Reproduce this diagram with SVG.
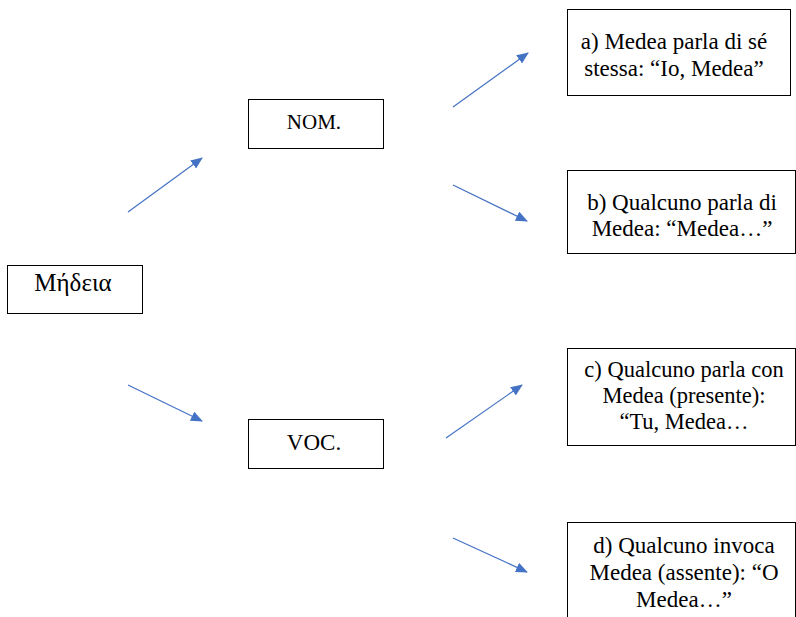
<svg xmlns="http://www.w3.org/2000/svg" width="796" height="617" viewBox="0 0 796 617">
<style>
.box{fill:#fff;stroke:#000;stroke-width:1}
text{font-family:'Liberation Serif','DejaVu Serif',serif;fill:#000;text-anchor:middle}
.c{stroke:#4472C4;stroke-width:1.2;fill:none;marker-end:url(#ah)}
</style>
<defs>
<marker id="ah" markerWidth="12" markerHeight="10" refX="11" refY="5" orient="auto" markerUnits="userSpaceOnUse">
<path d="M0,0 L12,5 L0,10 Z" fill="#4472C4"/>
</marker>
</defs>
<rect width="796" height="617" fill="#fff"/>
<g id="connectors">
<line class="c" x1="128" y1="212" x2="202" y2="158"/>
<line class="c" x1="128" y1="385" x2="202" y2="421"/>
<line class="c" x1="453" y1="107" x2="528" y2="53"/>
<line class="c" x1="453" y1="185" x2="527" y2="221"/>
<line class="c" x1="446" y1="438" x2="522" y2="385"/>
<line class="c" x1="453" y1="538" x2="527" y2="572"/>
</g>
<g id="medeia">
<rect class="box" x="7.5" y="265.5" width="135" height="48"/>
<text x="73" y="291" font-size="25">Μήδεια</text>
</g>
<g id="nom">
<rect class="box" x="248.5" y="99.5" width="135" height="49"/>
<text x="314" y="129" font-size="21">NOM.</text>
</g>
<g id="voc">
<rect class="box" x="248.5" y="419.5" width="135" height="49"/>
<text x="314" y="450" font-size="23">VOC.</text>
</g>
<g id="a">
<rect class="box" x="567.5" y="9.5" width="223" height="86"/>
<text x="674" y="49" font-size="23">a) Medea parla di sé</text>
<text x="674" y="76" font-size="23">stessa: “Io, Medea”</text>
</g>
<g id="b">
<rect class="box" x="567.5" y="170.5" width="228" height="83"/>
<text x="682" y="210" font-size="23">b) Qualcuno parla di</text>
<text x="682" y="236" font-size="23">Medea: “Medea…”</text>
</g>
<g id="c">
<rect class="box" x="567.5" y="348.5" width="228" height="97"/>
<text x="684" y="377" font-size="22.5">c) Qualcuno parla con</text>
<text x="684" y="403" font-size="22.5">Medea (presente):</text>
<text x="684" y="429" font-size="22.5">“Tu, Medea…</text>
</g>
<g id="d">
<rect class="box" x="567.5" y="522.5" width="228" height="100"/>
<text x="684" y="553" font-size="23">d) Qualcuno invoca</text>
<text x="684" y="580" font-size="23">Medea (assente): “O</text>
<text x="684" y="607" font-size="23">Medea…”</text>
</g>
</svg>
